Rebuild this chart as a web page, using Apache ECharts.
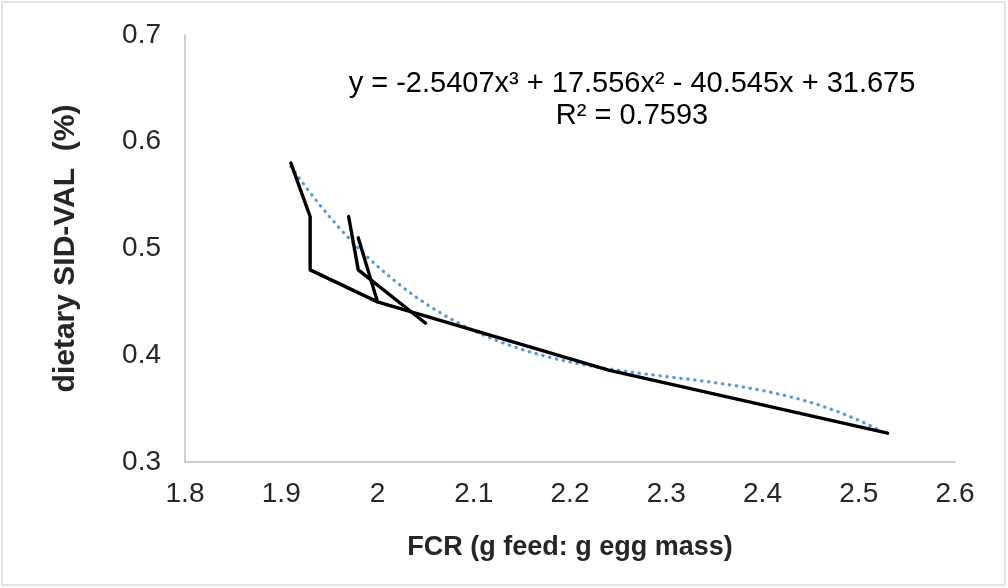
<!DOCTYPE html>
<html>
<head>
<meta charset="utf-8">
<script src="https://cdn.jsdelivr.net/npm/echarts@6/dist/echarts.min.js"></script>
<style>
html,body{margin:0;padding:0;background:#fff;}
#chart{width:1008px;height:588px;}
</style>
</head>
<body>
<div id="chart"></div>
<script>
// Data (FCR, dietary SID-VAL)
const segmentMain = [[1.91, 0.58], [1.93, 0.53], [1.93, 0.48], [2.00, 0.45], [2.24, 0.386], [2.53, 0.327]];
const segmentB = [[1.98, 0.51], [2.00, 0.45]];
const segmentC = [[1.97, 0.53], [1.98, 0.48], [2.05, 0.43]];
// Polynomial trendline coefficients as printed on the chart (x^3, x^2, x, const)
const trendCoef = [-2.5407, 17.556, -40.545, 31.675];
const trendRange = [1.91, 2.53];
const xTicks = { min: 1.8, max: 2.6, interval: 0.1 };
const yTicks = { min: 0.3, max: 0.7, interval: 0.1 };
const equationText = 'y = -2.5407x³ + 17.556x² - 40.545x + 31.675';
const r2Text = 'R² = 0.7593';
const xTitle = 'FCR (g feed: g egg mass)';
const yTitle = 'dietary SID-VAL  (%)';

const trendData = [];
for (let i = 0; i <= 62; i++) {
  const x = trendRange[0] + (trendRange[1] - trendRange[0]) * i / 62;
  const y = trendCoef[0] * x * x * x + trendCoef[1] * x * x + trendCoef[2] * x + trendCoef[3];
  trendData.push([x, y]);
}

const font = '"Liberation Sans", Arial, sans-serif';
const chart = echarts.init(document.getElementById('chart'));
const blackLine = (data) => ({
  type: 'line', data: data, showSymbol: false, symbol: 'none', animation: false,
  lineStyle: { color: '#000', width: 3.4, cap: 'round', join: 'round' }, z: 3
});
chart.setOption({
  backgroundColor: '#fff',
  animation: false,
  grid: { left: 185, right: 53, top: 35, bottom: 126, containLabel: false },
  xAxis: {
    type: 'value', min: xTicks.min, max: xTicks.max, interval: xTicks.interval,
    name: xTitle, nameLocation: 'middle', nameGap: 72,
    nameTextStyle: { fontFamily: font, fontSize: 27, fontWeight: 'bold', color: '#262626' },
    axisLine: { show: true, lineStyle: { color: '#bfbfbf', width: 1.5 } },
    axisTick: { show: false },
    splitLine: { show: false },
    axisLabel: { fontFamily: font, fontSize: 28, color: '#262626', margin: 18 }
  },
  yAxis: {
    type: 'value', min: yTicks.min, max: yTicks.max, interval: yTicks.interval,
    name: yTitle, nameLocation: 'middle', nameGap: 104, nameRotate: 90,
    nameTextStyle: { fontFamily: font, fontSize: 30, fontWeight: 'bold', color: '#262626' },
    axisLine: { show: true, lineStyle: { color: '#bfbfbf', width: 1.5 } },
    axisTick: { show: false },
    splitLine: { show: false },
    axisLabel: { fontFamily: font, fontSize: 28, color: '#262626', margin: 24 }
  },
  graphic: [
    { type: 'rect', shape: { x: 2, y: 2, width: 1003, height: 583 }, style: { fill: 'none', stroke: '#d9d9d9', lineWidth: 1.5 }, silent: true },
    { type: 'text', x: 632, y: 84, style: { text: equationText, font: '29px ' + font, fill: '#000', align: 'center', verticalAlign: 'middle' } },
    { type: 'text', x: 632, y: 116, style: { text: r2Text, font: '29px ' + font, fill: '#000', align: 'center', verticalAlign: 'middle' } }
  ],
  series: [
    {
      type: 'line', data: trendData, showSymbol: false, symbol: 'none', animation: false, z: 2,
      lineStyle: { color: '#5B9BD5', width: 3.2, type: [0.5, 6.5], cap: 'round' }
    },
    blackLine(segmentMain),
    blackLine(segmentB),
    blackLine(segmentC)
  ]
});
</script>
</body>
</html>
